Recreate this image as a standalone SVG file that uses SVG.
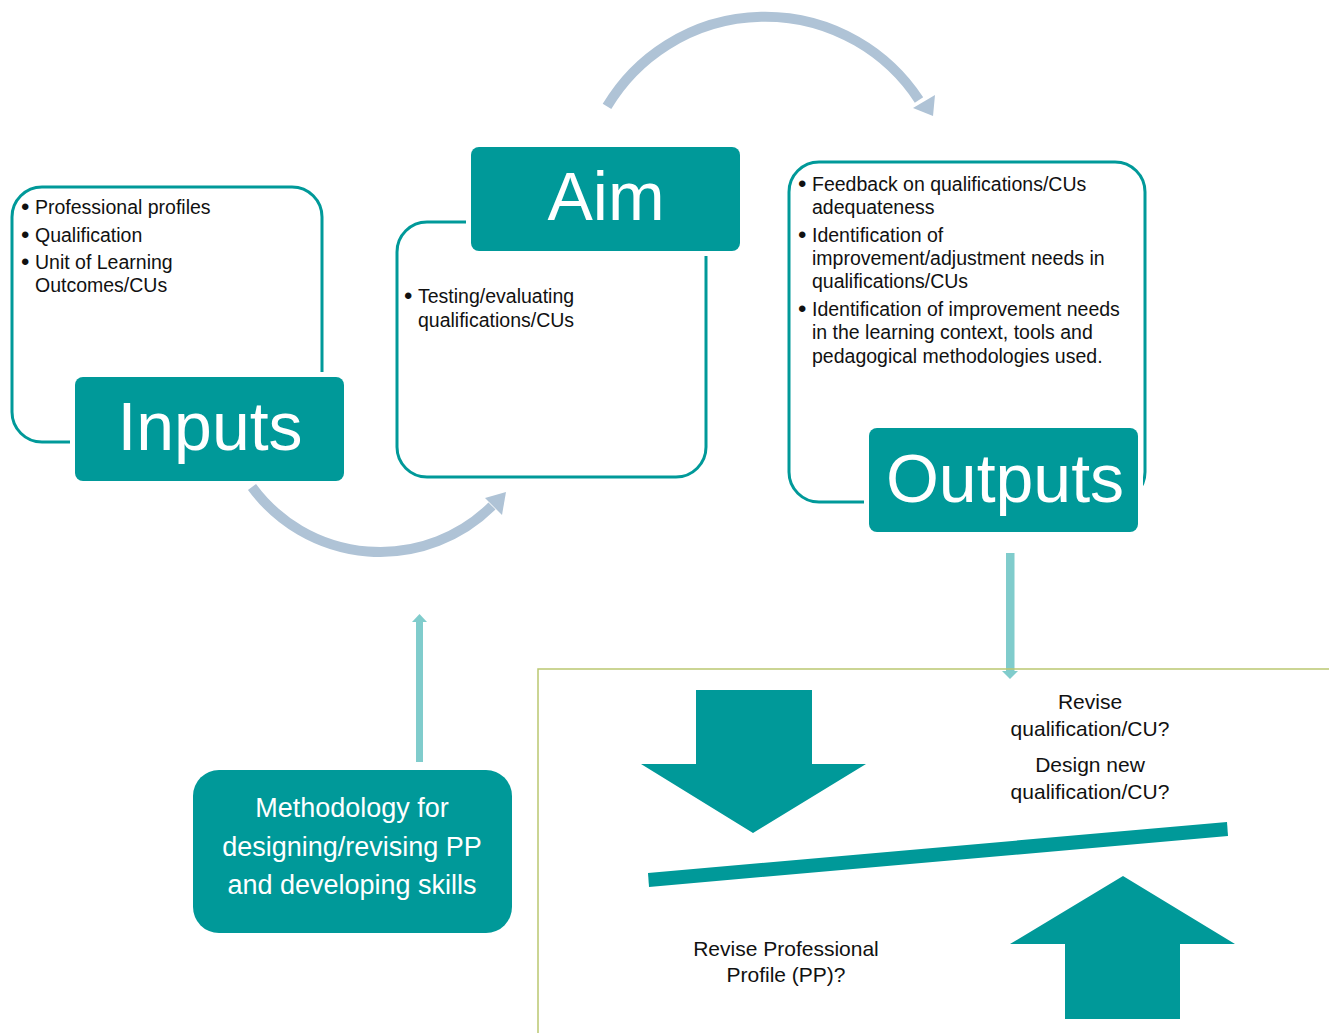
<svg xmlns="http://www.w3.org/2000/svg" width="1329" height="1033" viewBox="0 0 1329 1033">
  <style>
    .outline { fill: none; stroke: #009999; stroke-width: 3; }
    .gap { fill: #ffffff; }
    .label { fill: #009999; }
    .big { font-family: "Liberation Sans", Arial, sans-serif; font-size: 68px; fill: #ffffff; text-anchor: middle; }
    .bul { font-family: "Liberation Sans", Arial, sans-serif; font-size: 19.5px; fill: #111111; }
    .dot { font-family: "Liberation Sans", Arial, sans-serif; font-size: 24px; fill: #111111; }
    .q { font-family: "Liberation Sans", Arial, sans-serif; font-size: 21px; fill: #111111; text-anchor: middle; }
    .meth { font-family: "Liberation Sans", Arial, sans-serif; font-size: 27px; fill: #ffffff; text-anchor: middle; }
    .arc { fill: none; stroke: #AFC3D6; stroke-width: 10; }
    .archead { fill: #AFC3D6; }
    .lt { fill: #80CCCC; }
    .solid { fill: #009999; }
  </style>
  <rect width="1329" height="1033" fill="#ffffff"/>

  <g id="inputs">
    <rect class="outline" x="12" y="187" width="310" height="255" rx="30"/>
    <text class="dot" x="21" y="215">•</text><text class="bul" x="35" y="214">Professional profiles</text>
    <text class="dot" x="21" y="243">•</text><text class="bul" x="35" y="242">Qualification</text>
    <text class="dot" x="21" y="270">•</text><text class="bul" x="35" y="269">Unit of Learning</text>
    <text class="bul" x="35" y="292">Outcomes/CUs</text>
    <rect class="gap" x="70" y="372" width="279" height="114" rx="10"/>
    <rect class="label" x="75" y="377" width="269" height="104" rx="8"/>
    <text class="big" x="210" y="450">Inputs</text>
  </g>

  <g id="aim">
    <rect class="outline" x="397" y="222" width="309" height="255" rx="30"/>
    <text class="dot" x="404" y="304">•</text><text class="bul" x="418" y="303">Testing/evaluating</text>
    <text class="bul" x="418" y="327">qualifications/CUs</text>
    <rect class="gap" x="466" y="142" width="279" height="114" rx="10"/>
    <rect class="label" x="471" y="147" width="269" height="104" rx="8"/>
    <text class="big" x="606" y="220">Aim</text>
  </g>

  <g id="outputs">
    <rect class="outline" x="789" y="162" width="356" height="340" rx="30"/>
    <text class="dot" x="798" y="192">•</text><text class="bul" x="812" y="191">Feedback on qualifications/CUs</text>
    <text class="bul" x="812" y="214">adequateness</text>
    <text class="dot" x="798" y="243">•</text><text class="bul" x="812" y="242">Identification of</text>
    <text class="bul" x="812" y="265">improvement/adjustment needs in</text>
    <text class="bul" x="812" y="288">qualifications/CUs</text>
    <text class="dot" x="798" y="317">•</text><text class="bul" x="812" y="316">Identification of improvement needs</text>
    <text class="bul" x="812" y="339">in the learning context, tools and</text>
    <text class="bul" x="812" y="363">pedagogical methodologies used.</text>
    <rect class="gap" x="864" y="423" width="279" height="114" rx="10"/>
    <rect class="label" x="869" y="428" width="269" height="104" rx="8"/>
    <text class="big" x="1005" y="502">Outputs</text>
  </g>

  <g id="methodology">
    <rect x="193" y="770" width="319" height="163" rx="26" fill="#009999"/>
    <text class="meth" x="352" y="817">Methodology for</text>
    <text class="meth" x="352" y="856">designing/revising PP</text>
    <text class="meth" x="352" y="894">and developing skills</text>
  </g>

  <g id="connectors">
    <path class="arc" d="M 607 106.4 A 184 184 0 0 1 919 100"/>
    <polygon class="archead" points="933,116 935,95 913,108"/>
    <path class="arc" d="M 252 487 A 159 159 0 0 0 492 506"/>
    <polygon class="archead" points="506,492 502,515 485,498"/>
    <rect class="lt" x="416" y="622" width="7" height="140"/>
    <polygon class="lt" points="419.5,614 427,622 412,622"/>
    <rect class="lt" x="1006" y="553" width="8.5" height="118"/>
    <polygon class="lt" points="1002,671 1018,671 1010,679"/>
  </g>

  <g id="decision-panel">
    <path d="M 1329 669 L 538 669 L 538 1033" fill="none" stroke="#BAC872" stroke-width="1.5"/>
    <polygon class="solid" points="696,690 812,690 812,764 866,764 753,833 641,764 696,764"/>
    <polygon class="solid" points="648,873 1227,822 1228,836 649,887"/>
    <polygon class="solid" points="1123,876 1235,944 1180,944 1180,1019 1065,1019 1065,944 1010,944"/>
    <text class="q" x="1090" y="709">Revise</text>
    <text class="q" x="1090" y="736">qualification/CU?</text>
    <text class="q" x="1090" y="772">Design new</text>
    <text class="q" x="1090" y="799">qualification/CU?</text>
    <text class="q" x="786" y="956">Revise Professional</text>
    <text class="q" x="786" y="982">Profile (PP)?</text>
  </g>
</svg>
